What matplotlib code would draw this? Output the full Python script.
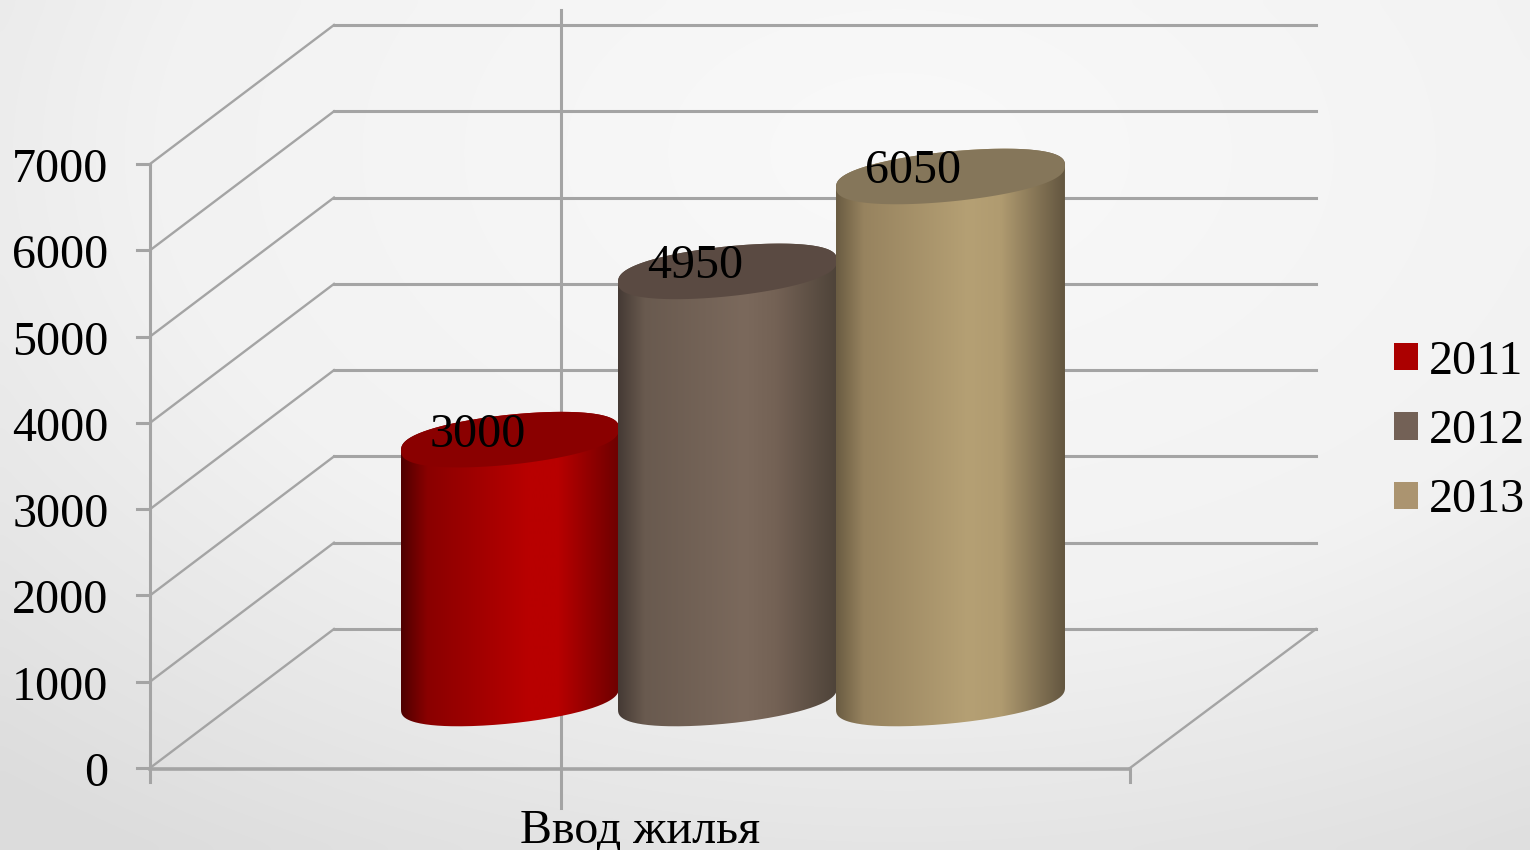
# -*- coding: utf-8 -*-
import numpy as np
import matplotlib
matplotlib.use('Agg')
import matplotlib.pyplot as plt
from matplotlib.colors import LinearSegmentedColormap
from matplotlib.patches import Patch, PathPatch, Polygon
from matplotlib.path import Path

# data
years = ['2011', '2012', '2013']
values = [3000, 4950, 6050]
y_ticks = [0, 1000, 2000, 3000, 4000, 5000, 6000, 7000]
category = 'Ввод жилья'

# colours: left edge, .., mid, .., right edge
shades = [
    ['#4f0000', '#8a0000', '#b80000', '#b80000', '#6e0000'],
    ['#453a34', '#695a4f', '#7b695c', '#746255', '#4e4339'],
    ['#6a5c42', '#97835f', '#b5a074', '#b09b70', '#635640'],
]
tops = ['#8a0000', '#5a4a42', '#85765a']
legend_cols = ['#ab0000', '#736156', '#ab9470']
grid_col = '#a4a4a4'

# x spans of the cylinders, in figure pixels
spans = [(401, 619), (618, 837), (836, 1065)]

# wall geometry in pixels
W, H = 1530, 850
x_front, x_back, x_end, x_end_back = 150, 334, 1130, 1316
y_zero, px_per_unit = 768, 604 / 7000
depth = 139 / px_per_unit

plt.rcParams['font.family'] = ['Liberation Serif', 'DejaVu Serif']
fs = 34.6

fig = plt.figure(figsize=(W / 100, H / 100), dpi=100)

# page background, light in the upper middle, grey towards the corners
bg = fig.add_axes([0, 0, 1, 1])
bg.axis(False)
xx, yy = np.meshgrid(np.linspace(0, W, 160), np.linspace(0, H, 90))
rr = np.hypot((xx - 900) / 1250, (yy - 150) / 780)
bg.imshow(rr, cmap=LinearSegmentedColormap.from_list('bg', ['#f8f8f8', '#f2f2f2', '#dcdcdc']),
          vmin=0.1, vmax=1.1, aspect='auto', interpolation='bicubic')

ax = fig.add_axes([0, 0, 1, 1])
ax.patch.set_alpha(0)
ax.axis(False)
ylim = ((y_zero - H) / px_per_unit, y_zero / px_per_unit)

# walls
for t in y_ticks:
    ax.plot([x_back, x_end_back], [t + depth, t + depth], color=grid_col, lw=2.2, zorder=1)
    ax.plot([x_front, x_back], [t, t + depth], color=grid_col, lw=1.7, zorder=1)
    ax.plot([x_front - 13, x_front], [t, t], color=grid_col, lw=2.2, zorder=1)
    ax.text(108.5, t - 6 / px_per_unit, str(t), ha='right', va='center', fontsize=fs, zorder=5)
tick_len = 14 / px_per_unit
ax.plot([x_front, x_front], [-tick_len, y_ticks[-1]], color=grid_col, lw=2.2, zorder=1)
ax.plot([x_front, x_end], [-1 / px_per_unit] * 2, color=grid_col, lw=2.6, zorder=1)
ax.plot([x_end, x_end], [-tick_len, 0], color=grid_col, lw=2.2, zorder=1)
ax.plot([x_end, x_end_back], [0, depth], color=grid_col, lw=1.7, zorder=1)
ax.plot([561, 561], [-40 / px_per_unit, 758 / px_per_unit], color=grid_col, lw=2.2, zorder=1)


def ellipse_arc(cx, a, v, t0, t1):
    # tilted end of a cylinder, centred half way into the depth, a bit fuller than an ellipse
    t = np.linspace(t0, t1, 120)
    shear, b = 11 / px_per_unit, 25 / px_per_unit
    s = np.sin(t)
    return np.column_stack([cx + a * np.cos(t),
                            v + depth / 2 + shear * np.cos(t) + b * np.sign(s) * np.abs(s) ** 0.8])


for i, (val, (x0, x1)) in enumerate(zip(values, spans)):
    cx, a = (x0 + x1) / 2, (x1 - x0) / 2
    side = np.vstack([ellipse_arc(cx, a, 0, np.pi, 2 * np.pi), ellipse_arc(cx, a, val, 0, np.pi)])
    clip = PathPatch(Path(np.vstack([side, side[:1]])), fc='none', ec='none', transform=ax.transData)
    ax.add_patch(clip)
    cmap = LinearSegmentedColormap.from_list(f'c{i}', list(zip([0, 0.12, 0.58, 0.72, 1], shades[i])))
    im = ax.imshow(np.linspace(0, 1, 256)[None, :], cmap=cmap, aspect='auto', zorder=2 + i * 0.1,
                   extent=[x0, x1, -1000, 8000], interpolation='bilinear')
    im.set_clip_path(clip)
    ax.add_patch(Polygon(ellipse_arc(cx, a, val, 0, 2 * np.pi), fc=tops[i], ec='none', zorder=2.05 + i * 0.1))
    # labels sit at an even step, not on the cylinder centres
    ax.text(478 + 217.5 * i, val + depth / 2 + 5 / px_per_unit, str(val), ha='center', va='center',
            fontsize=fs, zorder=6)

ax.text(640, -62 / px_per_unit, category, ha='center', va='center', fontsize=fs, zorder=5)

handles = [Patch(fc=c, ec='none') for c in legend_cols]
ax.legend(handles, years, loc='center left', bbox_to_anchor=(1380 / W, 1 - 431 / H), bbox_transform=fig.transFigure,
          frameon=False, fontsize=fs, handlelength=0.5, handleheight=0.5, handletextpad=0.22,
          labelspacing=0.53, borderpad=0, borderaxespad=0.3)

ax.set_xlim(0, W)
ax.set_ylim(*ylim)

fig.savefig('out.png', dpi=100)
